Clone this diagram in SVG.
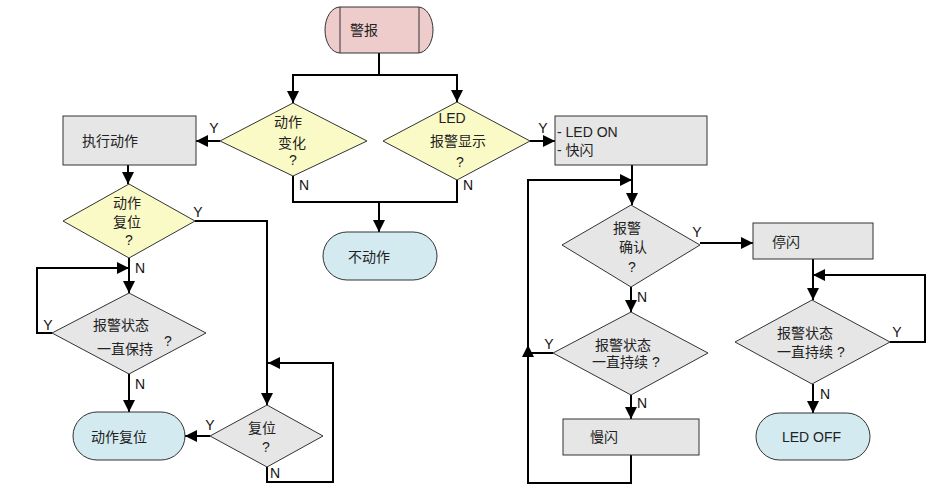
<svg xmlns="http://www.w3.org/2000/svg" width="945" height="498" viewBox="0 0 945 498">
<style>
.t{font-family:"Liberation Sans","Noto Sans CJK SC",sans-serif;font-size:14px;fill:#222;}
.m{text-anchor:middle;}
.lbl{font-family:"Liberation Sans",sans-serif;font-size:14px;fill:#111;}
.y{fill:#FAFAC6;stroke:#333;stroke-width:1;}
.g{fill:#E6E6E6;stroke:#333;stroke-width:1;}
.b{fill:#D3EAF0;stroke:#333;stroke-width:1;}
.p{fill:#EECCCC;stroke:#333;stroke-width:1;}
.c{fill:none;stroke:#000;stroke-width:2;}
</style>
<defs>
<marker id="arr" viewBox="0 0 10 10" refX="10" refY="5" markerWidth="12" markerHeight="12" markerUnits="userSpaceOnUse" orient="auto">
<path d="M0,0 L10,5 L0,10 z" fill="#000"/>
</marker>
</defs>
<rect width="945" height="498" fill="#fff"/>

<g id="connectors">
<path class="c" d="M379,53 V75 H293 V103" marker-end="url(#arr)"/>
<path class="c" d="M379,75 H457 V102" marker-end="url(#arr)"/>
<path class="c" d="M220,141 H196" marker-end="url(#arr)"/>
<path class="c" d="M530,141 H555" marker-end="url(#arr)"/>
<path class="c" d="M293,176 V202 H457 V180"/>
<path class="c" d="M379,202 V232" marker-end="url(#arr)"/>
<path class="c" d="M128,165 V184" marker-end="url(#arr)"/>
<path class="c" d="M195,221 H267 V405" marker-end="url(#arr)"/>
<path class="c" d="M129,258 V293" marker-end="url(#arr)"/>
<path class="c" d="M52,333 H37 V268 H129" marker-end="url(#arr)"/>
<path class="c" d="M129,374 V412" marker-end="url(#arr)"/>
<path class="c" d="M267,467 V482 H333 V363 H268" marker-end="url(#arr)"/>
<path class="c" d="M210,436 H185" marker-end="url(#arr)"/>
<path class="c" d="M632,165 V205" marker-end="url(#arr)"/>
<path class="c" d="M631,455 V483 H528 V180 H632" marker-end="url(#arr)"/>
<path class="c" d="M553,353 H528"/>
<path class="c" d="M528,362 V345" marker-end="url(#arr)"/>
<path class="c" d="M700,243 H753" marker-end="url(#arr)"/>
<path class="c" d="M631,287 V312" marker-end="url(#arr)"/>
<path class="c" d="M813,259 V300" marker-end="url(#arr)"/>
<path class="c" d="M890,342 H925 V275 H813" marker-end="url(#arr)"/>
<path class="c" d="M813,384 V413" marker-end="url(#arr)"/>
<path class="c" d="M631,395 V419" marker-end="url(#arr)"/>
<text class="lbl" x="214" y="133" text-anchor="middle">Y</text>
<text class="lbl" x="543" y="133" text-anchor="middle">Y</text>
<text class="lbl" x="299" y="190">N</text>
<text class="lbl" x="463" y="190">N</text>
<text class="lbl" x="198" y="217" text-anchor="middle">Y</text>
<text class="lbl" x="135" y="273">N</text>
<text class="lbl" x="48" y="330" text-anchor="middle">Y</text>
<text class="lbl" x="135" y="389">N</text>
<text class="lbl" x="210" y="430" text-anchor="middle">Y</text>
<text class="lbl" x="270" y="478">N</text>
<text class="lbl" x="697" y="237" text-anchor="middle">Y</text>
<text class="lbl" x="637" y="302">N</text>
<text class="lbl" x="549" y="349" text-anchor="middle">Y</text>
<text class="lbl" x="637" y="408">N</text>
<text class="lbl" x="897" y="337" text-anchor="middle">Y</text>
<text class="lbl" x="820" y="399">N</text>
</g>

<g id="alarm">
<rect class="p" x="325" y="7" width="108" height="46" rx="15" ry="23"/>
<line x1="340" y1="7" x2="340" y2="53" stroke="#333"/>
<line x1="419" y1="7" x2="419" y2="53" stroke="#333"/>
<text class="t" x="350" y="35">警报</text>
</g>

<g id="action-change">
<polygon class="y" points="293,103 367,141 293,176 220,141"/>
<text class="t m" x="288" y="127">动作</text>
<text class="t m" x="292" y="148">变化</text>
<text class="t m" x="293" y="165">?</text>
</g>

<g id="led-display">
<polygon class="y" points="457,102 530,141 457,180 383,141"/>
<text class="t m" x="452" y="123">LED</text>
<text class="t m" x="458" y="146">报警显示</text>
<text class="t m" x="460" y="167">?</text>
</g>

<g id="no-action">
<rect class="b" x="323" y="232" width="114" height="48" rx="24" ry="24"/>
<text class="t" x="348" y="262">不动作</text>
</g>

<g id="execute">
<rect class="g" x="63" y="116" width="133" height="49"/>
<text class="t" x="82" y="146">执行动作</text>
</g>

<g id="action-reset-q">
<polygon class="y" points="129,184 195,221 129,258 63,221"/>
<text class="t m" x="127" y="208">动作</text>
<text class="t m" x="127" y="227">复位</text>
<text class="t m" x="129" y="245">?</text>
</g>

<g id="keep-q">
<polygon class="g" points="129,293 206,333 129,374 52,333"/>
<text class="t" x="93" y="330">报警状态</text>
<text class="t" x="97" y="354">一直保持</text>
<text class="t" x="164" y="346">?</text>
</g>

<g id="action-reset">
<rect class="b" x="73" y="412" width="112" height="48" rx="24" ry="24"/>
<text class="t" x="91" y="442">动作复位</text>
</g>

<g id="reset-q">
<polygon class="g" points="267,405 323,436 267,467 210,436"/>
<text class="t" x="248" y="433">复位</text>
<text class="t m" x="266" y="452">?</text>
</g>

<g id="led-on">
<rect class="g" x="555" y="116" width="152" height="49"/>
<text class="t" x="557" y="137">- LED ON</text>
<text class="t" x="557" y="155">- 快闪</text>
</g>

<g id="ack-q">
<polygon class="g" points="631,205 700,245 631,287 562,245"/>
<text class="t" x="613" y="233">报警</text>
<text class="t" x="619" y="252">确认</text>
<text class="t m" x="632" y="272">?</text>
</g>

<g id="stop-flash">
<rect class="g" x="753" y="223" width="120" height="36"/>
<text class="t" x="772" y="247">停闪</text>
</g>

<g id="persist-q1">
<polygon class="g" points="631,312 708,353 631,395 553,353"/>
<text class="t" x="595" y="350">报警状态</text>
<text class="t" x="592" y="367">一直持续 ?</text>
</g>

<g id="slow-flash">
<rect class="g" x="563" y="419" width="136" height="36"/>
<text class="t" x="590" y="442">慢闪</text>
</g>

<g id="persist-q2">
<polygon class="g" points="812,300 890,342 812,384 735,342"/>
<text class="t" x="777" y="338">报警状态</text>
<text class="t" x="777" y="357">一直持续 ?</text>
</g>

<g id="led-off">
<rect class="b" x="756" y="413" width="114" height="47" rx="23.5" ry="23.5"/>
<text class="t" x="782" y="442">LED OFF</text>
</g>
</svg>
